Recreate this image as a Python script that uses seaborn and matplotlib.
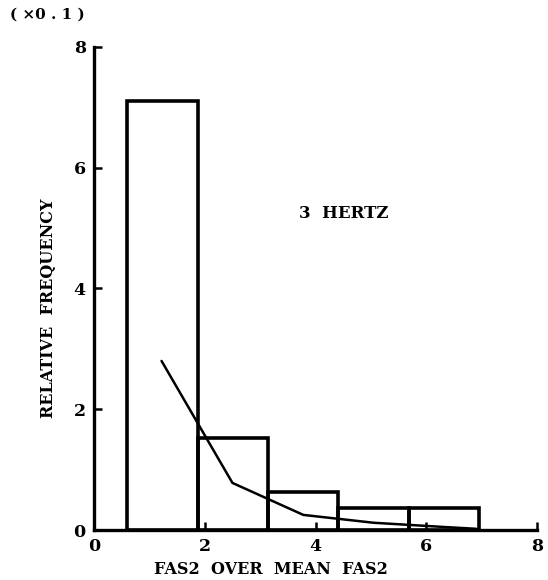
import numpy as np
import pandas as pd
import seaborn as sns
import matplotlib
matplotlib.use("Agg")
import matplotlib.pyplot as plt

# Histogram of FAS2 / mean FAS2 at 3 Hz (relative frequency, units of 0.1)
bin_edges = [0.6, 1.87, 3.14, 4.41, 5.68, 6.95]
bar_heights = [7.1, 1.52, 0.63, 0.36, 0.37]

# Fitted distribution curve
curve_x = [1.22, 2.5, 3.78, 5.05, 6.32, 6.9]
curve_y = [2.8, 0.78, 0.25, 0.12, 0.05, 0.02]

x_ticks = [0, 2, 4, 6, 8]
y_ticks = [0, 2, 4, 6, 8]

sns.set_theme(style="ticks")
plt.rcParams["font.family"] = ["DejaVu Serif"]
plt.rcParams["text.color"] = "black"
plt.rcParams["axes.labelcolor"] = "black"

fig = plt.figure(figsize=(5.48, 5.80), dpi=100)
ax = fig.add_axes([0.1715, 0.0862, 0.8085, 0.8328])

centers = [(bin_edges[i] + bin_edges[i + 1]) / 2 for i in range(len(bar_heights))]
bars = pd.DataFrame({"x": centers, "w": bar_heights})
sns.histplot(data=bars, x="x", weights="w", bins=bin_edges, stat="count",
             fill=False, element="bars", color="black", linewidth=2.6, ax=ax)

curve = pd.DataFrame({"x": curve_x, "y": curve_y})
sns.lineplot(data=curve, x="x", y="y", color="black", linewidth=1.8, ax=ax)

ax.set_xlim(0, 8)
ax.set_ylim(0, 8)
ax.set_xticks(x_ticks)
ax.set_yticks(y_ticks)
ax.set_xticklabels([str(t) for t in x_ticks], fontsize=12.5, fontweight="bold")
ax.set_yticklabels([str(t) for t in y_ticks], fontsize=12.5, fontweight="bold")
ax.tick_params(direction="in", length=6, width=1.8, pad=6,
               colors="black", labelcolor="black")

for side in ("top", "right"):
    ax.spines[side].set_visible(False)
for side in ("left", "bottom"):
    ax.spines[side].set_linewidth(2.4)
    ax.spines[side].set_color("black")

ax.set_xlabel("FAS2  OVER  MEAN  FAS2", fontsize=11.5, fontweight="bold",
              labelpad=4, x=0.4)
ax.set_ylabel("RELATIVE  FREQUENCY", fontsize=11.5, fontweight="bold",
              labelpad=12, y=0.46)

ax.text(3.7, 5.25, "3  HERTZ", fontsize=12, fontweight="bold", va="center")
fig.text(0.018, 0.975, "( ×0 . 1 )", fontsize=11, fontweight="bold", va="center")

fig.savefig("out.png", dpi=100, facecolor="white")
